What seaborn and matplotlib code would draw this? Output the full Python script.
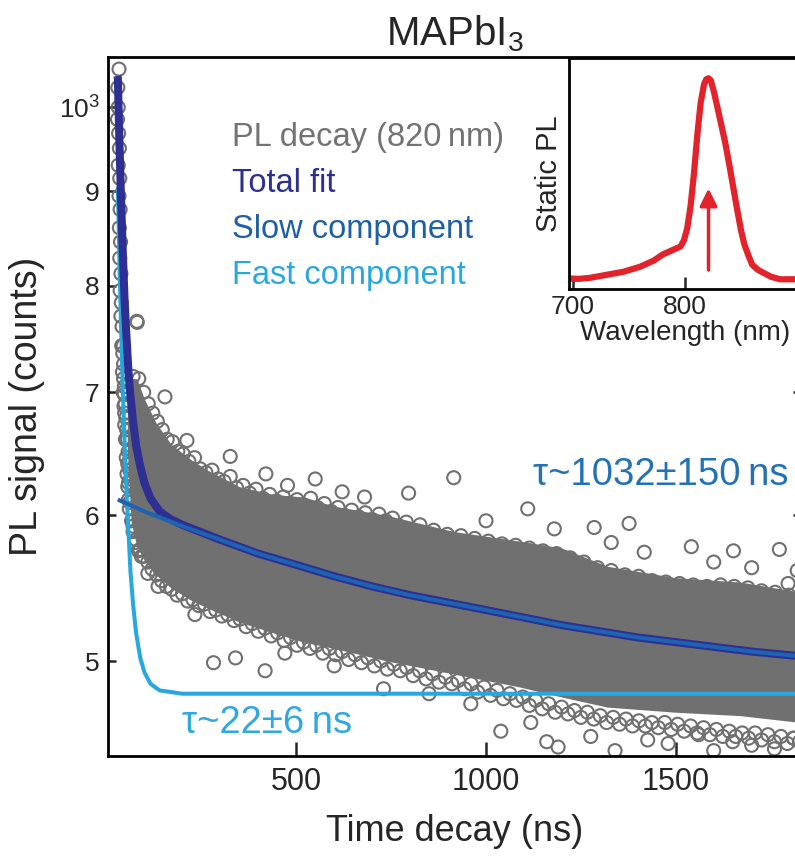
import matplotlib
matplotlib.use("Agg")
import matplotlib.pyplot as plt
import pandas as pd
import seaborn as sns
from matplotlib.ticker import FixedLocator, FixedFormatter, NullLocator

# ---- values ----
# early part of the decay (t in ns, PL counts)
early_time = [33, 30, 31, 29, 32, 34, 31, 35, 33, 36, 34, 37, 35, 38, 36, 39, 38, 41, 40, 43,
              42, 45, 44, 47, 46, 49, 48, 51, 50, 53, 52, 55, 54, 57, 56, 59, 58, 61, 60, 63,
              80, 45, 47, 44, 48, 52, 56, 58, 62, 66, 70, 76, 84, 92, 60, 64, 68, 72]
early_counts = [1049, 1025, 1000, 985, 968, 950, 930, 915, 895, 880, 860, 845, 828, 812, 795, 783,
                770, 760, 742, 735, 718, 712, 700, 698, 688, 690, 672, 678, 660, 668, 645, 660,
                632, 650, 622, 642, 612, 635, 605, 628, 765, 725, 705, 742, 682, 660, 640, 625,
                610, 596, 588, 580, 574, 570, 668, 652, 636, 622]

# upper edge of the dense cloud
upper_time = [70, 85, 98, 110, 122, 134, 147, 160, 174, 188, 202, 217, 232, 247, 262, 278, 294,
              310, 326, 343, 360, 377, 394, 412, 430, 448, 466, 484, 502, 520, 538, 556, 574,
              592, 610, 628, 646, 664, 682, 700, 718, 736, 754, 772, 790, 808, 826, 844, 862,
              880, 898, 916, 934, 952, 970, 988, 1006, 1024, 1042, 1060, 1078, 1096, 1114, 1132,
              1150, 1168, 1186, 1204, 1222, 1240, 1258, 1276, 1294, 1312, 1330, 1348, 1366,
              1384, 1402, 1420, 1438, 1456, 1474, 1492, 1510, 1528, 1546, 1564, 1582, 1600,
              1618, 1636, 1654, 1672, 1690, 1708, 1726, 1744, 1762, 1780, 1798, 1816]
upper_counts = [714, 712, 700, 690, 682, 675, 668, 660, 658, 650, 648, 642, 645, 636, 633, 635,
                628, 626, 630, 621, 623, 617, 620, 613, 616, 611, 614, 609, 612, 608, 613, 606,
                609, 603, 606, 600, 604, 599, 602, 597, 601, 596, 598, 592, 595, 589, 593, 586,
                589, 583, 586, 582, 585, 579, 583, 577, 581, 576, 579, 574, 578, 573, 576, 571,
                574, 568, 572, 566, 569, 562, 566, 559, 562, 557, 560, 554, 557, 552, 556, 550,
                553, 548, 552, 547, 551, 546, 550, 545, 549, 546, 550, 545, 549, 544, 548, 543,
                546, 541, 545, 539, 543, 538]

# lower edge of the dense cloud
lower_time = [62, 70, 78, 88, 98, 109, 120, 132, 145, 158, 172, 186, 200, 214, 228, 243, 258,
              273, 288, 304, 320, 336, 352, 368, 384, 400, 417, 434, 451, 468, 485, 502, 519,
              536, 553, 570, 587, 604, 621, 638, 655, 672, 689, 706, 723, 740, 757, 774, 791,
              808, 825, 842, 859, 876, 893, 910, 927, 944, 961, 978, 995, 1012, 1029, 1046,
              1063, 1080, 1097, 1114, 1131, 1148, 1165, 1182, 1199, 1216, 1233, 1250, 1267,
              1284, 1301, 1318, 1335, 1352, 1369, 1386, 1403, 1420, 1437, 1454, 1471, 1488,
              1505, 1522, 1539, 1556, 1573, 1590, 1607, 1624, 1641, 1658, 1675, 1692, 1709,
              1726, 1743, 1760, 1777, 1794, 1811, 1826]
lower_counts = [610, 592, 582, 575, 570, 566, 561, 557, 553, 549, 547, 543, 544, 539, 540, 536,
                537, 532, 533, 529, 530, 526, 527, 522, 524, 519, 521, 516, 518, 513, 515, 510,
                512, 508, 510, 505, 508, 504, 506, 501, 504, 499, 502, 497, 500, 495, 498, 494,
                496, 491, 494, 489, 492, 487, 490, 486, 488, 483, 486, 481, 484, 479, 482, 477,
                480, 476, 478, 473, 476, 471, 474, 469, 472, 468, 470, 466, 469, 465, 467, 463,
                466, 462, 465, 461, 464, 461, 463, 460, 463, 459, 462, 458, 461, 457, 460, 456,
                459, 455, 458, 455, 457, 454, 457, 453, 456, 452, 455, 451, 454, 452]

# isolated points outside the cloud
outlier_time = [81, 154, 212, 326, 420, 477, 550, 621, 680, 796, 915, 1000, 1110, 1180, 1285,
                1330, 1377, 1417, 1541, 1600, 1652, 1700, 1773, 1796, 1820,
                109, 136, 233, 282, 340, 418, 470, 600, 730, 850, 960, 1039, 1118, 1160, 1190,
                1276, 1340, 1426, 1480, 1560, 1600, 1650, 1700, 1760, 1810]
outlier_counts = [764, 696, 659, 646, 632, 623, 628, 618, 614, 617, 629, 596, 605, 590, 591,
                  580, 594, 573, 577, 566, 574, 562, 575, 551, 560,
                  558, 549, 530, 499, 502, 494, 505, 497, 483, 480, 474, 458, 463, 452, 449,
                  455, 447, 453, 451, 456, 447, 452, 450, 448, 454]

# dense core of the cloud (overlapping markers)
core_time = [55, 65, 80, 100, 130, 170, 220, 260, 350, 440, 520, 600, 740, 915, 1090, 1200,
             1320, 1500, 1670, 1830]
core_low = [650, 595, 577, 567, 557, 548, 540, 535, 525, 518, 512, 508, 500, 492, 484, 478,
            472, 469, 467, 463]
core_high = [712, 712, 712, 694, 674, 656, 644, 636, 622, 616, 614, 607, 600, 588, 581, 576,
             563, 555, 552, 545]

# fits
total_time = [29, 30, 34, 38, 43, 48, 53, 58, 63, 70, 78, 89, 100, 116, 140, 170, 200, 300,
              400, 500, 600, 700, 800, 900, 1000, 1100, 1200, 1300, 1400, 1500, 1600, 1700, 1830]
total_counts = [1040, 1037, 959, 896, 834, 783, 748, 718, 697, 675, 655, 638, 625, 613, 603,
                597, 593, 582, 572, 564, 556, 549, 543, 538, 533, 528, 523, 519, 515, 512, 509,
                506, 503]
slow_time = [30, 100, 200, 300, 400, 500, 600, 700, 800, 900, 1000, 1100, 1200, 1300, 1400,
             1500, 1600, 1700, 1830]
slow_counts = [612, 603, 592, 582, 572, 564, 556, 549, 543, 538, 533, 528, 523, 519, 515, 512,
               509, 506, 503]
fast_time = [30, 34, 38, 43, 48, 53, 58, 63, 70, 78, 89, 100, 116, 140, 170, 200, 400, 800,
             1200, 1600, 1830]
fast_counts = [905, 825, 765, 703, 655, 617, 588, 560, 537, 518, 502, 493, 486, 482, 481, 480,
               480, 480, 480, 480, 480]

ytick_values = [500, 600, 700, 800, 900, 1000]
ytick_labels = ["5", "6", "7", "8", "9", "$10^3$"]
xtick_values = [500, 1000, 1500]

# inset: static PL spectrum
wavelength = [696, 705, 715, 730, 745, 760, 772, 780, 784, 790, 796, 799, 802, 805, 808, 811,
              814, 817, 819, 821, 823, 826, 830, 836, 840, 846, 850, 853, 857, 860, 865, 870,
              877, 885, 895, 904]
static_pl = [0.012, 0.010, 0.015, 0.030, 0.045, 0.070, 0.100, 0.130, 0.140, 0.155, 0.170,
             0.200, 0.260, 0.370, 0.530, 0.720, 0.880, 0.970, 0.995, 1.000, 0.990, 0.930,
             0.830, 0.680, 0.560, 0.370, 0.250, 0.180, 0.120, 0.080, 0.055, 0.040, 0.020,
             0.008, 0.008, 0.008]
arrow_nm = 821
arrow_from, arrow_to = 0.04, 0.47

GREY = "#707070"
NAVY = "#2d2f92"
SLOW = "#1d63b2"
FAST = "#29a8df"
RED = "#e3232b"

sns.set_style("ticks")
plt.rcParams["font.family"] = ["Liberation Sans", "DejaVu Sans"]
plt.rcParams["mathtext.fontset"] = "custom"
plt.rcParams["mathtext.rm"] = "Liberation Sans"
plt.rcParams["mathtext.default"] = "regular"

fig = plt.figure(figsize=(7.95, 8.57), dpi=100)
ax = fig.add_axes([108 / 795, 101 / 857, 693 / 795, 699 / 857])

# scattered PL decay data
pts = pd.DataFrame({
    "t": early_time + upper_time + lower_time + outlier_time,
    "counts": early_counts + upper_counts + lower_counts + outlier_counts,
})
ax.fill_between(core_time, core_low, core_high, color=GREY, lw=0, zorder=2)
sns.scatterplot(data=pts, x="t", y="counts", ax=ax, s=88, color=GREY, facecolor="none",
                edgecolor=GREY, linewidth=1.5, zorder=2, legend=False)

sns.lineplot(x=fast_time, y=fast_counts, ax=ax, color=FAST, lw=2.9, zorder=3,
             estimator=None, solid_capstyle="butt")
sns.lineplot(x=total_time, y=total_counts, ax=ax, color=NAVY, lw=5.8, zorder=4,
             estimator=None, solid_capstyle="butt")
sns.lineplot(x=slow_time, y=slow_counts, ax=ax, color=SLOW, lw=2.9, zorder=5,
             estimator=None, solid_capstyle="butt")

ax.set_yscale("log")
ax.set_ylim(444, 1065)
ax.set_xlim(4, 1830)
ax.yaxis.set_major_locator(FixedLocator(ytick_values))
ax.yaxis.set_major_formatter(FixedFormatter(ytick_labels))
ax.yaxis.set_minor_locator(NullLocator())
ax.set_xticks(xtick_values)
ax.tick_params(axis="y", direction="in", length=6, width=1.8, labelsize=19, pad=6, right=True)
ax.tick_params(axis="x", direction="in", length=10, width=1.8, labelsize=22, pad=8)
for sp in ax.spines.values():
    sp.set_linewidth(2)
    sp.set_color("black")

ax.set_xlabel("Time decay (ns)", fontsize=26, labelpad=12)
ax.set_ylabel("PL signal (counts)", fontsize=27, labelpad=10)
ax.set_title("MAPbI$_3$", fontsize=29, pad=8)

# legend written as coloured text
legend_rows = [("PL decay (820\u2009nm)", "#737373"), ("Total fit", NAVY),
               ("Slow component", "#1f5fa6"), ("Fast component", FAST)]
for i, (txt, col) in enumerate(legend_rows):
    ax.text(0.179, 0.873 - i * 0.066, txt, color=col, fontsize=23.5,
            transform=ax.transAxes, va="baseline")

ax.text(1125, 623, "\u03c4~1032\u00b1150\u2009ns", color="#2372b6", fontsize=27.5,
        va="baseline")
ax.text(200, 457, "\u03c4~22\u00b16\u2009ns", color="#33a8dd", fontsize=27.5, va="baseline")

# inset with the static PL spectrum
ax_in = fig.add_axes([569 / 795, 568 / 857, 232 / 795, 231 / 857])
sns.lineplot(x=wavelength, y=static_pl, ax=ax_in, color=RED, lw=4.5, estimator=None)
ax_in.annotate("", xy=(arrow_nm, arrow_to), xytext=(arrow_nm, arrow_from),
               arrowprops=dict(arrowstyle="-|>", color=RED, lw=2.5, mutation_scale=26))
ax_in.set_xlim(696.4, 903.6)
ax_in.set_ylim(-0.04, 1.10)
ax_in.set_xticks([700, 800])
ax_in.set_yticks([])
ax_in.tick_params(axis="x", direction="in", length=9, width=1.8, labelsize=19, pad=4)
ax_in.set_xlabel("Wavelength (nm)", fontsize=20, labelpad=1)
ax_in.set_ylabel("Static PL", fontsize=21, labelpad=4)
for sp in ax_in.spines.values():
    sp.set_linewidth(2)
    sp.set_color("black")

fig.savefig("out.png", dpi=100)
